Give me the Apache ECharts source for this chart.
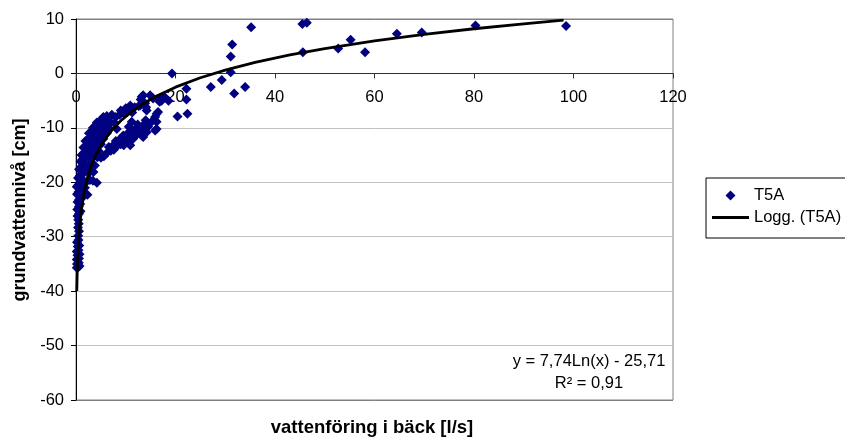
<!DOCTYPE html>
<html>
<head>
<meta charset="utf-8">
<script src="https://cdn.jsdelivr.net/npm/echarts@6/dist/echarts.min.js"></script>
<style>
html,body{margin:0;padding:0;background:#fff;}
#chart{width:845px;height:439px;}
</style>
</head>
<body>
<div id="chart"></div>
<script>
// ---- data ----
const seriesName = 'T5A';
const trendName = 'Logg. (T5A)';
const xAxisTitle = 'vattenföring i bäck [l/s]';
const yAxisTitle = 'grundvattennivå [cm]';
const equationText = 'y = 7,74Ln(x) - 25,71';
const r2Text = 'R² = 0,91';
const xRange = [0, 120, 20];
const yRange = [-60, 10, 10];

// dense cluster close to x = 0
const lowFlowPoints = [
  [0.15,-35.7],[0.45,-35.6],[0.7,-35.4],[0.2,-35.0],[0.55,-34.8],[0.15,-34.2],[0.6,-34.0],
  [0.3,-33.4],[0.7,-33.2],[0.15,-32.7],[0.5,-32.5],[0.35,-31.8],[0.65,-31.6],[0.2,-31.0],
  [0.5,-30.6],[0.45,-29.8],[0.6,-29.0],[0.4,-28.3],[0.55,-27.6],[0.45,-26.9],[0.3,-26.2],
  [0.6,-25.8],[0.9,-25.3],[0.25,-25.0],[0.55,-24.5],[0.85,-24.0],[0.3,-23.6],[0.6,-23.2],
  [0.95,-22.8],[1.5,-22.6],[2.3,-22.3],[0.2,-22.2],[0.5,-21.8],[0.9,-21.5],[1.3,-21.2],
  [1.8,-21.0],[0.15,-20.8],[0.45,-20.5],[0.8,-20.3],[1.2,-20.0],[1.6,-19.8],[2.2,-19.8],
  [2.8,-19.6],[3.4,-19.7],[4.2,-20.1],[0.4,-19.2],[0.8,-18.8],[1.2,-18.5],[1.7,-18.2],
  [2.3,-18.0],[2.9,-18.0],[3.5,-18.1]
];

// two branches between -18 and -4
const midFlowPoints = [
  [0.6,-17.6],[1.0,-17.2],[1.5,-17.0],[2.0,-16.8],[2.6,-16.9],[3.0,-16.5],[3.8,-16.9],
  [0.9,-16.2],[1.3,-15.8],[1.8,-15.5],[2.4,-15.3],[3.0,-15.2],[3.6,-15.0],[4.3,-15.4],[5.0,-15.5],[5.6,-15.2],
  [1.1,-15.0],[1.6,-14.6],[2.2,-14.3],[2.8,-14.2],[3.4,-14.0],[4.0,-14.1],[4.6,-14.3],[6.2,-14.6],[7.0,-14.2],[7.6,-14.0],
  [1.5,-13.6],[2.0,-13.3],[2.6,-13.0],[3.2,-12.9],[3.8,-12.8],[4.4,-12.9],[5.0,-13.0],[6.6,-13.5],[7.4,-13.3],[8.2,-13.4],[9.0,-13.0],[9.6,-13.2],[10.9,-13.2],
  [1.9,-12.4],[2.5,-12.0],[3.1,-11.8],[3.7,-11.6],[4.3,-11.6],[4.9,-11.8],[5.5,-12.0],[8.0,-12.4],[8.8,-12.1],[9.4,-11.8],[10.2,-12.3],[10.8,-11.7],[11.5,-12.0],
  [2.6,-11.0],[3.2,-10.8],[3.8,-10.6],[4.4,-10.5],[5.0,-10.6],[5.6,-10.8],[6.2,-11.0],[9.5,-11.4],[10.4,-11.0],[11.2,-10.8],[12.2,-11.2],[13.2,-11.4],[13.5,-11.7],
  [12.0,-10.3],[12.9,-10.2],[13.8,-10.5],[14.2,-10.8],[11.5,-10.5],
  [3.4,-10.0],[4.0,-9.7],[4.6,-9.5],[5.3,-9.6],[6.0,-9.8],[6.6,-10.0],[8.2,-10.2],[10.6,-9.8],[11.2,-8.9],[12.4,-9.4],[13.4,-9.6],[13.5,-9.9],[14.5,-9.8],[15.9,-10.5],[16.2,-10.2],
  [4.2,-9.0],[4.9,-8.6],[5.6,-8.5],[6.3,-8.7],[7.0,-9.0],[7.8,-9.1],[14.0,-8.6],[15.2,-8.9],[16.2,-8.9],[15.9,-8.0],
  [5.5,-8.0],[6.2,-7.8],[7.2,-7.6],[8.0,-8.0],[8.8,-7.6],[9.5,-7.2],[10.4,-7.0],[11.3,-7.2],[14.1,-6.2],[14.2,-6.8],[16.5,-7.1],[16.2,-7.4],
  [9.0,-6.8],[10.0,-6.4],[10.9,-5.9],[11.8,-6.2],[12.6,-6.0],[12.9,-5.9],[13.2,-5.6],[13.9,-5.5],
  [13.0,-4.8],[13.2,-4.3],[13.5,-4.0],[14.9,-4.0],[15.5,-4.6],[16.9,-4.6],[17.5,-4.4],[17.9,-4.4],[17.2,-5.0],[18.6,-5.0],[16.8,-5.2]
];

// scattered high-flow points
const highFlowPoints = [
  [19.3,0.0],[20.4,-7.9],[22.4,-7.4],[22.2,-4.8],[22.2,-2.8],[27.1,-2.5],[29.3,-1.2],
  [31.1,0.2],[31.1,3.1],[31.4,5.3],[31.8,-3.7],[34.0,-2.5],[35.2,8.5],[45.5,9.1],[46.4,9.3],
  [45.6,3.9],[52.7,4.6],[55.2,6.2],[58.1,3.9],[64.5,7.3],[69.5,7.5],[80.3,8.8],[98.5,8.7]
];

// logarithmic trend line, coefficients as printed on the chart
const trendSlope = 7.74;
const trendIntercept = -25.71;
const trendX = [0.158,0.18,0.2,0.23,0.26,0.3,0.35,0.4,0.5,0.6,0.7,0.85,1,1.2,1.5,1.8,2.2,2.7,3.3,4,5,6,7.5,9,11,13,16,20,25,30,36,43,50,60,70,80,90,98];

// ---- chart ----
const scatterData = lowFlowPoints.concat(midFlowPoints, highFlowPoints);
const trendData = trendX.map(x => [x, trendSlope * Math.log(x) + trendIntercept]);

const FONT = '"Liberation Sans", Arial, sans-serif';
const gridTop = 19, gridBottom = 39, chartH = 439;
const plotH = chartH - gridTop - gridBottom;
// x axis sits at y = 0: shift it up from the bottom of the plot
const xAxisOffset = -plotH * (0 - yRange[0]) / (yRange[1] - yRange[0]);

const chart = echarts.init(document.getElementById('chart'), null, {renderer: 'canvas'});
chart.setOption({
  animation: false,
  backgroundColor: '#ffffff',
  grid: {left: 76, right: 172, top: gridTop, bottom: gridBottom, show: true, borderColor: '#808080', borderWidth: 1, backgroundColor: 'transparent'},
  xAxis: {
    type: 'value', min: xRange[0], max: xRange[1], interval: xRange[2],
    position: 'bottom', offset: xAxisOffset,
    axisLine: {onZero: false, lineStyle: {color: '#303030', width: 1}},
    axisTick: {show: true, length: 5, lineStyle: {color: '#303030'}},
    axisLabel: {color: '#000', fontFamily: FONT, fontSize: 16.5, margin: 16},
    splitLine: {show: false}
  },
  yAxis: {
    type: 'value', min: yRange[0], max: yRange[1], interval: yRange[2],
    axisLine: {show: true, onZero: false, lineStyle: {color: '#000', width: 1}},
    axisTick: {show: true, length: 5, lineStyle: {color: '#000'}},
    axisLabel: {color: '#000', fontFamily: FONT, fontSize: 16.5, margin: 12},
    splitLine: {show: true, lineStyle: {color: ['#808080','#c0c0c0','#c0c0c0','#c0c0c0','#c0c0c0','#c0c0c0','#c0c0c0','#808080'], width: 1}}
  },
  legend: {
    orient: 'vertical', left: 706, top: 178,
    borderColor: '#000', borderWidth: 1, padding: [9, 40, 12, 6],
    itemWidth: 37, itemHeight: 10, itemGap: 5, symbolKeepAspect: true,
    textStyle: {fontFamily: FONT, fontSize: 16.5, color: '#000'},
    data: [
      {name: seriesName, icon: 'path://M5,0 L10,5 L5,10 L0,5 Z'},
      {name: trendName, icon: 'path://M0,0 H37 V3 H0 Z'}
    ]
  },
  series: [
    {
      name: seriesName, type: 'scatter', symbol: 'diamond', symbolSize: 10,
      itemStyle: {color: '#000080', opacity: 1},
      data: scatterData, z: 2
    },
    {
      name: trendName, type: 'line', showSymbol: false, symbol: 'none',
      lineStyle: {color: '#000', width: 2.8}, itemStyle: {color: '#000'},
      data: trendData, z: 3, smooth: false
    }
  ],
  graphic: [
    {type: 'text', x: 589, y: 361, style: {text: equationText, fill: '#000', font: '16.5px ' + FONT, textAlign: 'center', textVerticalAlign: 'middle'}},
    {type: 'text', x: 589, y: 383, style: {text: r2Text, fill: '#000', font: '16.5px ' + FONT, textAlign: 'center', textVerticalAlign: 'middle'}},
    {type: 'text', x: 372, y: 428, style: {text: xAxisTitle, fill: '#000', font: 'bold 18.5px ' + FONT, textAlign: 'center', textVerticalAlign: 'middle'}},
    {type: 'text', x: 20, y: 210, rotation: Math.PI / 2, style: {text: yAxisTitle, fill: '#000', font: 'bold 18px ' + FONT, textAlign: 'center', textVerticalAlign: 'middle'}}
  ]
});
</script>
</body>
</html>
